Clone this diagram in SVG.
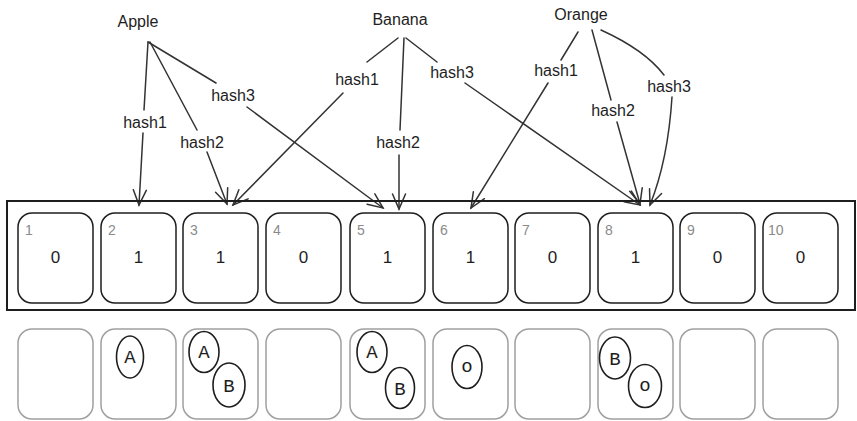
<svg xmlns="http://www.w3.org/2000/svg" width="857" height="421" viewBox="0 0 857 421">
  <style>
    .frame { fill: none; stroke: #1e1e1e; stroke-width: 2; }
    .bit { fill: #ffffff; stroke: #1e1e1e; stroke-width: 1.5; }
    .slot { fill: #ffffff; stroke: #a0a0a0; stroke-width: 1.5; }
    .tag { fill: none; stroke: #1e1e1e; stroke-width: 1.6; }
    .word { font-family: "Liberation Sans", Arial, sans-serif; font-size: 16px; fill: #1e1e1e; text-anchor: middle; }
    .idx { font-family: "Liberation Sans", Arial, sans-serif; font-size: 14px; fill: #8a8a8a; }
    .val { font-family: "Liberation Sans", Arial, sans-serif; font-size: 17px; fill: #1e1e1e; text-anchor: middle; }
    .letter { font-family: "Liberation Mono", "Courier New", monospace; font-size: 19px; fill: #1e1e1e; text-anchor: middle; }
    .link { fill: none; stroke: #333333; stroke-width: 1.5; stroke-linecap: round; marker-end: url(#head); }
  </style>
  <defs>
    <marker id="head" markerUnits="userSpaceOnUse" markerWidth="20" markerHeight="18" refX="16" refY="8" orient="auto">
      <path d="M1,1.5 L16,8 L1,14.5" fill="none" stroke="#333333" stroke-width="1.5" stroke-linecap="round"/>
    </marker>
  </defs>

  <rect width="857" height="421" fill="#ffffff"/>

  <!-- items -->
  <g id="apple"><text class="word" x="138" y="27">Apple</text></g>
  <g id="banana"><text class="word" x="400" y="25">Banana</text></g>
  <g id="orange"><text class="word" x="581" y="20">Orange</text></g>

  <!-- hash connectors -->
  <g id="connectors">
    <path class="link" d="M148,42 L144,110 M143,133 L139,205"/>
    <path class="link" d="M150,42 L197,130 M207,152 L227,204"/>
    <path class="link" d="M148,42 L216,83 M247,107 L383,208"/>
    <path class="link" d="M398,38 L367,62 M343,93 L233,205"/>
    <path class="link" d="M404,38 L400,130 M399,155 L399,209"/>
    <path class="link" d="M406,38 L437,62 M465,83 L640,205"/>
    <path class="link" d="M578,32 L561,60 M548,83 L471,208"/>
    <path class="link" d="M592,30 L611,100 M617,122 L640,204"/>
    <path class="link" d="M601,30 Q645,50 664,75 M672,97 Q668,160 650,205"/>
    <text class="word" x="145" y="128">hash1</text>
    <text class="word" x="202" y="148">hash2</text>
    <text class="word" x="233" y="101">hash3</text>
    <text class="word" x="357" y="85">hash1</text>
    <text class="word" x="398" y="148">hash2</text>
    <text class="word" x="452" y="78">hash3</text>
    <text class="word" x="556" y="76">hash1</text>
    <text class="word" x="613" y="116">hash2</text>
    <text class="word" x="669" y="92">hash3</text>
  </g>

  <!-- bit array -->
  <g id="bit-array">
    <rect class="frame" x="7" y="201" width="848" height="109"/>
    <g id="bit-1"><rect class="bit" x="18" y="213" width="75" height="90" rx="14"/><text class="idx" x="25" y="235">1</text><text class="val" x="55.5" y="263">0</text></g>
    <g id="bit-2"><rect class="bit" x="101" y="213" width="75" height="90" rx="14"/><text class="idx" x="108" y="235">2</text><text class="val" x="138.5" y="263">1</text></g>
    <g id="bit-3"><rect class="bit" x="183" y="213" width="75" height="90" rx="14"/><text class="idx" x="190" y="235">3</text><text class="val" x="220.5" y="263">1</text></g>
    <g id="bit-4"><rect class="bit" x="266" y="213" width="75" height="90" rx="14"/><text class="idx" x="273" y="235">4</text><text class="val" x="303.5" y="263">0</text></g>
    <g id="bit-5"><rect class="bit" x="350" y="213" width="75" height="90" rx="14"/><text class="idx" x="357" y="235">5</text><text class="val" x="387.5" y="263">1</text></g>
    <g id="bit-6"><rect class="bit" x="433" y="213" width="75" height="90" rx="14"/><text class="idx" x="440" y="235">6</text><text class="val" x="470.5" y="263">1</text></g>
    <g id="bit-7"><rect class="bit" x="515" y="213" width="75" height="90" rx="14"/><text class="idx" x="522" y="235">7</text><text class="val" x="552.5" y="263">0</text></g>
    <g id="bit-8"><rect class="bit" x="598" y="213" width="75" height="90" rx="14"/><text class="idx" x="605" y="235">8</text><text class="val" x="635.5" y="263">1</text></g>
    <g id="bit-9"><rect class="bit" x="680" y="213" width="75" height="90" rx="14"/><text class="idx" x="687" y="235">9</text><text class="val" x="717.5" y="263">0</text></g>
    <g id="bit-10"><rect class="bit" x="763" y="213" width="75" height="90" rx="14"/><text class="idx" x="768" y="235">10</text><text class="val" x="800.5" y="263">0</text></g>
  </g>

  <!-- which items set each bit -->
  <g id="slots">
    <g id="slot-1"><rect class="slot" x="18" y="329" width="75" height="90" rx="14"/></g>
    <g id="slot-2"><rect class="slot" x="101" y="329" width="75" height="90" rx="14"/>
      <ellipse class="tag" cx="130" cy="357" rx="13.5" ry="21"/><text class="letter" x="130" y="363">A</text></g>
    <g id="slot-3"><rect class="slot" x="183" y="329" width="75" height="90" rx="14"/>
      <ellipse class="tag" cx="204" cy="352" rx="15" ry="20.5"/><text class="letter" x="204" y="358">A</text>
      <ellipse class="tag" cx="229" cy="385" rx="16" ry="22"/><text class="letter" x="229" y="392">B</text></g>
    <g id="slot-4"><rect class="slot" x="266" y="329" width="75" height="90" rx="14"/></g>
    <g id="slot-5"><rect class="slot" x="350" y="329" width="75" height="90" rx="14"/>
      <ellipse class="tag" cx="372" cy="352" rx="15" ry="20.5"/><text class="letter" x="372" y="358">A</text>
      <ellipse class="tag" cx="400" cy="388" rx="14.5" ry="20.5"/><text class="letter" x="400" y="395">B</text></g>
    <g id="slot-6"><rect class="slot" x="433" y="329" width="75" height="90" rx="14"/>
      <ellipse class="tag" cx="467" cy="367" rx="15" ry="21.5"/><text class="letter" x="467" y="372">o</text></g>
    <g id="slot-8"><rect class="slot" x="598" y="329" width="75" height="90" rx="14"/>
      <ellipse class="tag" cx="615" cy="358" rx="15.5" ry="21"/><text class="letter" x="615" y="365">B</text>
      <ellipse class="tag" cx="645" cy="386" rx="16.5" ry="21.5"/><text class="letter" x="645" y="391">o</text></g>
    <g id="slot-7"><rect class="slot" x="515" y="329" width="75" height="90" rx="14"/></g>
    <g id="slot-9"><rect class="slot" x="680" y="329" width="75" height="90" rx="14"/></g>
    <g id="slot-10"><rect class="slot" x="763" y="329" width="75" height="90" rx="14"/></g>
  </g>
</svg>
